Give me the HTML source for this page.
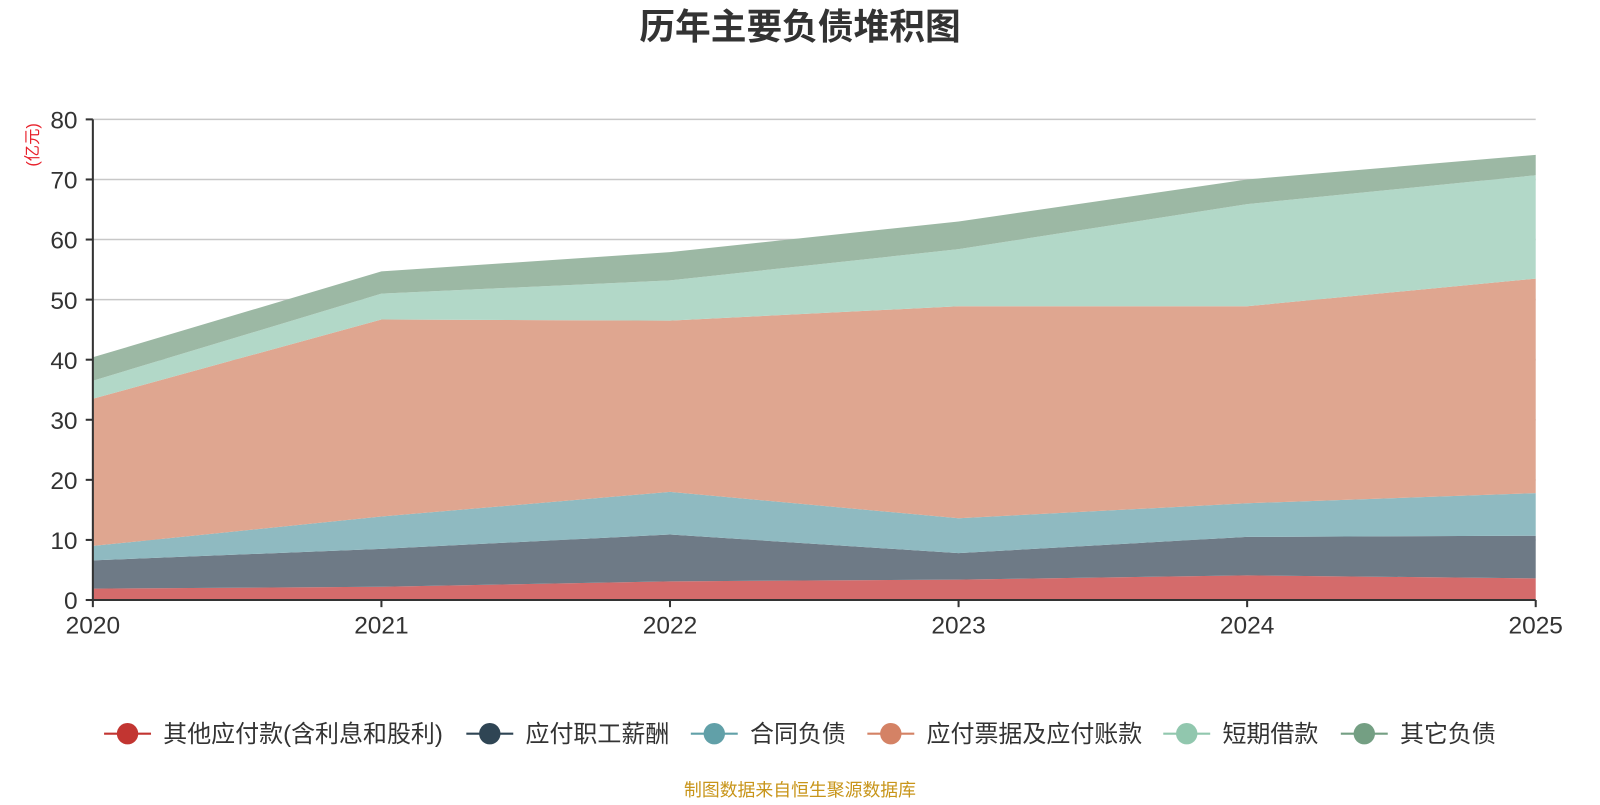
<!DOCTYPE html>
<html><head><meta charset="utf-8"><style>
body{margin:0;background:#fff;width:1600px;height:800px;overflow:hidden;font-family:"Liberation Sans","Noto Sans CJK SC",sans-serif}
</style></head><body>
<svg id="c" width="1600" height="800" viewBox="0 0 1568 784" xmlns="http://www.w3.org/2000/svg" style="font-family:'Liberation Sans','Noto Sans CJK SC',sans-serif">
<text x="784" y="38" text-anchor="middle" font-size="35" font-weight="bold" fill="#333">历年主要负债堆积图</text>
<text transform="translate(37,142) rotate(-90)" text-anchor="middle" font-size="16" fill="#e8212b">(亿元)</text>
<g id="grid"></g><g id="areas"></g><g id="axes"></g><g id="legend"></g>
<text x="784" y="780" text-anchor="middle" font-size="17.5" fill="#c8951a">制图数据来自恒生聚源数据库</text>
</svg>
<script>
const years=["2020","2021","2022","2023","2024","2025"];
const seriesNames=["其他应付款(含利息和股利)","应付职工薪酬","合同负债","应付票据及应付账款","短期借款","其它负债"];
const s1=[1.9,2.2,3.1,3.4,4.1,3.6];
const s2=[4.7,6.3,7.8,4.4,6.4,7.1];
const s3=[2.4,5.4,7.1,5.8,5.6,7.1];
const s4=[24.5,32.8,28.5,35.3,32.8,35.7];
const s5=[3.0,4.3,6.7,9.5,17.0,17.2];
const s6=[3.9,3.7,4.7,4.6,4.1,3.4];
const yTicks=[0,10,20,30,40,50,60,70,80];
const fills=["#d46b6b","#6e7a86","#8fbac1","#dfa690","#b2d8c8","#9cb8a4"];
const marks=["#c23531","#2f4554","#61a0a8","#d48265","#91c7ae","#749f83"];
const NS="http://www.w3.org/2000/svg";
const X0=91,X1=1505,Y0=588,Y1=117;
const xs=i=>X0+(X1-X0)*i/(years.length-1);
const ys=v=>Y0-(Y0-Y1)*v/80;
function mk(t,a,p){const e=document.createElementNS(NS,t);for(const k in a)e.setAttribute(k,a[k]);p.appendChild(e);return e;}
const grid=document.getElementById('grid'),axes=document.getElementById('axes'),areas=document.getElementById('areas'),leg=document.getElementById('legend');
yTicks.forEach(v=>{
 if(v>0){const l=mk('line',{x1:X0,x2:X1,y1:ys(v),y2:ys(v),stroke:'#c8c8c8','stroke-width':1.5},grid);
 
 }
 const t=mk('text',{x:X0-15,y:ys(v)+9,'text-anchor':'end','font-size':24,fill:'#333'},axes);t.textContent=v;
 
 
 mk('line',{x1:X0-7,x2:X0,y1:ys(v),y2:ys(v),stroke:'#333','stroke-width':2},axes);
});
const series=[s1,s2,s3,s4,s5,s6];
let base=years.map(()=>0);
series.forEach((s,k)=>{
 const top=base.map((b,i)=>b+s[i]);
 let d='M'+years.map((_,i)=>xs(i)+','+ys(top[i])).join(' L');
 for(let i=years.length-1;i>=0;i--)d+=' L'+xs(i)+','+ys(base[i]);
 const p=mk('path',{d:d+'Z',fill:fills[k],stroke:'none'},areas);
 
 
 base=top;
});
mk('line',{x1:X0,x2:X0,y1:Y1,y2:Y0,stroke:'#333','stroke-width':2},axes);
mk('line',{x1:X0,x2:X1,y1:Y0,y2:Y0,stroke:'#333','stroke-width':2},axes);
years.forEach((y,i)=>{
 mk('line',{x1:xs(i),x2:xs(i),y1:Y0,y2:Y0+7,stroke:'#333','stroke-width':2},axes);
 const t=mk('text',{x:xs(i),y:Y0+33,'text-anchor':'middle','font-size':24,fill:'#333'},axes);t.textContent=y;
 
 
});
const lx=[125,480,700,873,1163,1337];
seriesNames.forEach((n,k)=>{
 const g=mk('g',{},leg);
 
 
 mk('line',{x1:lx[k]-23,x2:lx[k]+23,y1:719,y2:719,stroke:marks[k],'stroke-width':2},g);
 mk('circle',{cx:lx[k],cy:719,r:10.5,fill:marks[k]},g);
 const t=mk('text',{x:lx[k]+35,y:727,'font-size':23.5,fill:'#333'},g);t.textContent=n;
});
</script>
</body></html>
